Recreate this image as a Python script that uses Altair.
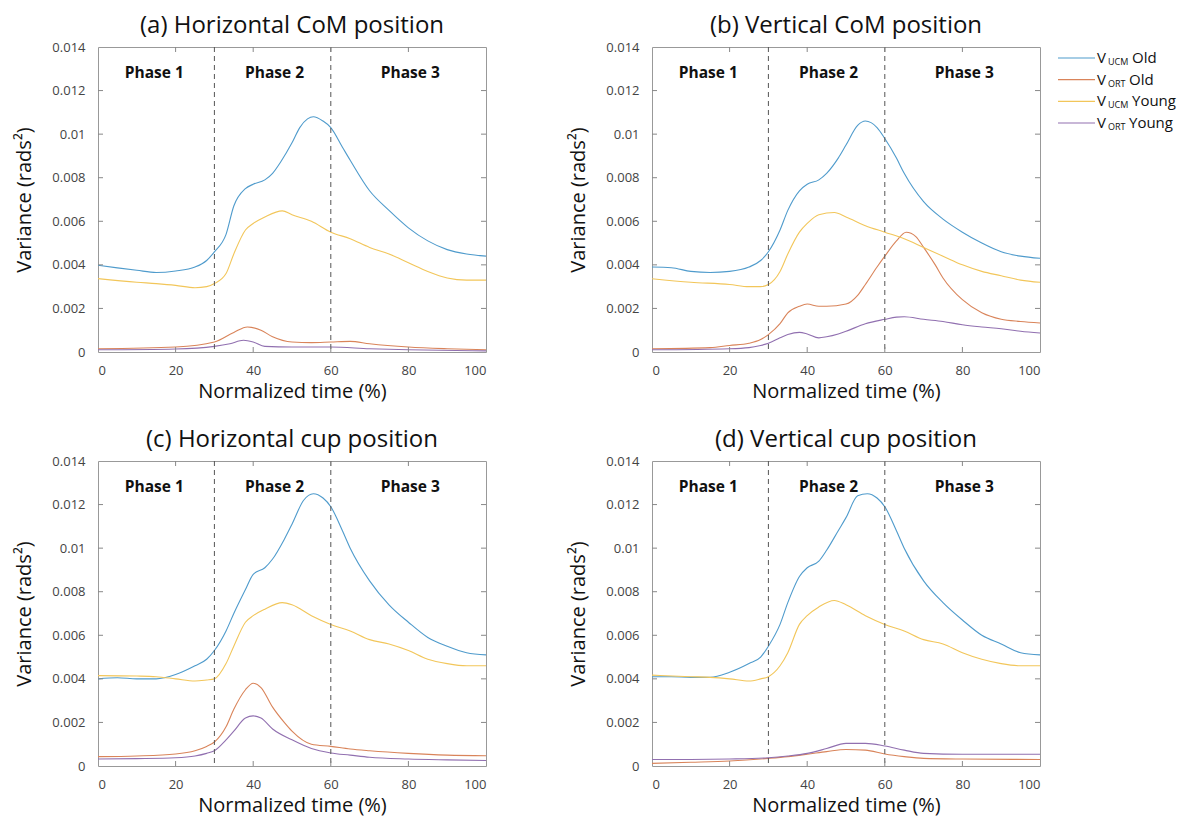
import altair as alt
import pandas as pd

FONT = "Open Sans"

SERIES = ["UCM Old", "ORT Old", "UCM Young", "ORT Young"]
COLORS = ["#4f9bcc", "#d9845a", "#f2c65a", "#9170b0"]
PANEL_TITLES = ["(a) Horizontal CoM position", "(b) Vertical CoM position",
                "(c) Horizontal cup position", "(d) Vertical cup position"]
PHASE_LABELS = ["Phase 1", "Phase 2", "Phase 3"]
PHASE_X = [14.5, 45.5, 80.5]
PHASE_Y = 0.0128
PHASE_BOUNDS = [30, 60]
X_TICKS = [0, 20, 40, 60, 80, 100]
Y_TICKS = [0, 0.002, 0.004, 0.006, 0.008, 0.01, 0.012, 0.014]

# ---- panel (a) ----
A_UCM_OLD_T = [0, 5, 10, 15, 20, 25, 28, 30, 33, 35, 38, 40, 43, 45, 47, 50, 52, 54, 55.5, 58, 60, 63, 65, 70, 75, 80, 85, 90, 95, 100]
A_UCM_OLD_V = [0.00398, 0.00386, 0.00375, 0.00365, 0.00372, 0.0039, 0.0042, 0.0046, 0.0054, 0.0067, 0.0075, 0.0077, 0.0079, 0.0082, 0.0087, 0.0096, 0.0103, 0.0107, 0.0108, 0.0106, 0.0103, 0.0094, 0.0088, 0.0074, 0.0065, 0.0057, 0.0051, 0.0047, 0.0045, 0.0044]
A_UCM_YOUNG_T = [0, 10, 15, 20, 25, 28, 30, 33, 35, 38, 40, 43, 47.5, 50, 55, 60, 65, 70, 75, 80, 85, 90, 95, 100]
A_UCM_YOUNG_V = [0.00337, 0.0032, 0.00314, 0.00306, 0.00295, 0.003, 0.00314, 0.0036, 0.0045, 0.0056, 0.0059, 0.0062, 0.00648, 0.0063, 0.006, 0.0055, 0.0052, 0.0048, 0.0045, 0.0041, 0.0037, 0.0034, 0.0033, 0.0033]
A_ORT_OLD_T = [0, 20, 30, 35, 38.5, 42, 45, 50, 55, 60, 65, 70, 80, 90, 100]
A_ORT_OLD_V = [0.00015, 0.00023, 0.00046, 0.0009, 0.00115, 0.001, 0.0007, 0.00046, 0.00043, 0.00046, 0.00049, 0.00038, 0.00023, 0.00015, 0.0001]
A_ORT_YOUNG_T = [0, 20, 30, 34, 37.5, 40, 43, 50, 60, 70, 80, 100]
A_ORT_YOUNG_V = [0.0001, 0.00014, 0.00026, 0.00038, 0.00054, 0.00046, 0.00026, 0.00023, 0.00023, 0.00015, 0.0001, 0.00005]

# ---- panel (b) ----
B_UCM_OLD_T = [0, 5, 10, 15, 20, 25, 28, 30, 33, 35, 38, 40, 43, 45, 48, 50, 53, 55, 58, 60, 63, 65, 70, 75, 80, 85, 90, 95, 100]
B_UCM_OLD_V = [0.0039, 0.00387, 0.0037, 0.00365, 0.0037, 0.0039, 0.0042, 0.0046, 0.0056, 0.0065, 0.0074, 0.0077, 0.0079, 0.0082, 0.0089, 0.0095, 0.0104, 0.0106, 0.0103, 0.0098, 0.0089, 0.0082, 0.0069, 0.0061, 0.0055, 0.005, 0.0046, 0.0044, 0.0043]
B_UCM_YOUNG_T = [0, 10, 20, 25, 28, 30, 33, 35, 38, 40, 43, 47, 50, 55, 60, 65, 70, 75, 80, 85, 90, 95, 100]
B_UCM_YOUNG_V = [0.00336, 0.0032, 0.0031, 0.003, 0.003, 0.0031, 0.0037, 0.0045, 0.0055, 0.0059, 0.0063, 0.0064, 0.0062, 0.0058, 0.0055, 0.0052, 0.0048, 0.0044, 0.004, 0.0037, 0.0035, 0.0033, 0.0032]
B_ORT_OLD_T = [0, 15, 20, 25, 28, 30, 33, 35, 38, 40, 43, 45, 50, 53, 55, 58, 60, 63, 65.5, 68, 70, 73, 75, 80, 85, 90, 95, 100]
B_ORT_OLD_V = [0.00015, 0.0002, 0.0003, 0.0004, 0.00057, 0.0008, 0.0013, 0.0018, 0.0021, 0.0022, 0.0021, 0.0021, 0.0022, 0.0026, 0.0031, 0.0039, 0.0044, 0.0051, 0.0055, 0.0053, 0.0048, 0.004, 0.0034, 0.0024, 0.0018, 0.0015, 0.0014, 0.00133]
B_ORT_YOUNG_T = [0, 20, 25, 28, 30, 33, 35, 38, 40, 43, 45, 48, 50, 55, 60, 63, 65, 70, 75, 80, 85, 90, 95, 100]
B_ORT_YOUNG_V = [0.0001, 0.00015, 0.0002, 0.0003, 0.0004, 0.00065, 0.0008, 0.0009, 0.00083, 0.00065, 0.0007, 0.00083, 0.00095, 0.0013, 0.0015, 0.0016, 0.00162, 0.0015, 0.0014, 0.00125, 0.00115, 0.00107, 0.00095, 0.00087]

# ---- panel (c) ----
C_UCM_OLD_T = [0, 5, 10, 15, 20, 25, 28, 30, 33, 35, 38, 40, 43, 45, 48, 50, 53, 55.5, 58, 60, 63, 65, 70, 75, 80, 85, 90, 95, 100]
C_UCM_OLD_V = [0.004, 0.00405, 0.004, 0.004, 0.0042, 0.0046, 0.0049, 0.0053, 0.0062, 0.007, 0.0081, 0.0088, 0.0091, 0.0095, 0.0104, 0.0111, 0.0122, 0.0125, 0.0123, 0.0119, 0.0108, 0.01, 0.0085, 0.0074, 0.0066, 0.0059, 0.0055, 0.0052, 0.0051]
C_UCM_YOUNG_T = [0, 10, 15, 20, 25, 28, 30, 33, 35, 38, 40, 43, 47.5, 50, 55, 60, 65, 70, 75, 80, 85, 90, 95, 100]
C_UCM_YOUNG_V = [0.00415, 0.00413, 0.0041, 0.004, 0.0039, 0.00395, 0.004, 0.0047, 0.0055, 0.0066, 0.0069, 0.0072, 0.0075, 0.0074, 0.0069, 0.0065, 0.0062, 0.0058, 0.0056, 0.0053, 0.0049, 0.0047, 0.0046, 0.0046]
C_ORT_OLD_T = [0, 10, 20, 25, 28, 30, 33, 35, 38, 40, 42, 45, 48, 50, 55, 60, 65, 70, 80, 90, 100]
C_ORT_OLD_V = [0.00043, 0.00046, 0.00055, 0.0007, 0.0009, 0.0011, 0.0018, 0.0026, 0.0035, 0.0038, 0.0036, 0.0027, 0.002, 0.0016, 0.001, 0.0009, 0.00078, 0.0007, 0.00058, 0.0005, 0.00047]
C_ORT_YOUNG_T = [0, 10, 20, 25, 28, 30, 33, 35, 38, 40, 42, 45, 50, 55, 60, 65, 70, 80, 90, 100]
C_ORT_YOUNG_V = [0.00032, 0.00034, 0.00038, 0.00046, 0.00058, 0.0007, 0.0012, 0.0016, 0.0022, 0.0023, 0.0022, 0.0017, 0.0012, 0.0008, 0.0006, 0.0005, 0.0004, 0.00032, 0.00028, 0.00025]

# ---- panel (d) ----
D_UCM_OLD_T = [0, 5, 10, 15, 20, 25, 28, 30, 33, 35, 38, 40, 43, 45, 48, 50, 53, 55.5, 58, 60, 63, 65, 70, 75, 80, 85, 90, 95, 100]
D_UCM_OLD_V = [0.0041, 0.0041, 0.00407, 0.00407, 0.0043, 0.0047, 0.005, 0.0055, 0.0065, 0.0075, 0.0087, 0.0091, 0.0094, 0.0099, 0.0108, 0.0114, 0.0124, 0.0125, 0.0123, 0.0119, 0.0108, 0.01, 0.0085, 0.0075, 0.0067, 0.006, 0.0056, 0.0052, 0.0051]
D_UCM_YOUNG_T = [0, 10, 15, 20, 25, 28, 30, 33, 35, 38, 40, 43, 47, 50, 55, 60, 65, 70, 75, 80, 85, 90, 95, 100]
D_UCM_YOUNG_V = [0.00417, 0.0041, 0.00407, 0.004, 0.0039, 0.004, 0.0041, 0.0046, 0.0052, 0.0065, 0.0069, 0.0073, 0.0076, 0.0074, 0.0069, 0.0065, 0.0062, 0.0058, 0.0056, 0.0052, 0.0049, 0.0047, 0.0046, 0.0046]
D_ORT_OLD_T = [0, 10, 20, 30, 35, 40, 45, 50, 55, 60, 65, 70, 80, 100]
D_ORT_OLD_V = [0.00012, 0.00017, 0.00023, 0.00035, 0.00043, 0.00054, 0.00066, 0.00076, 0.00073, 0.00055, 0.00043, 0.00035, 0.00032, 0.0003]
D_ORT_YOUNG_T = [0, 10, 20, 30, 35, 40, 45, 50, 55, 60, 65, 70, 80, 100]
D_ORT_YOUNG_V = [0.0003, 0.0003, 0.00032, 0.00038, 0.00046, 0.00058, 0.0008, 0.00104, 0.00104, 0.00092, 0.00073, 0.00058, 0.00054, 0.00054]

PANELS = [
    [(A_UCM_OLD_T, A_UCM_OLD_V), (A_ORT_OLD_T, A_ORT_OLD_V), (A_UCM_YOUNG_T, A_UCM_YOUNG_V), (A_ORT_YOUNG_T, A_ORT_YOUNG_V)],
    [(B_UCM_OLD_T, B_UCM_OLD_V), (B_ORT_OLD_T, B_ORT_OLD_V), (B_UCM_YOUNG_T, B_UCM_YOUNG_V), (B_ORT_YOUNG_T, B_ORT_YOUNG_V)],
    [(C_UCM_OLD_T, C_UCM_OLD_V), (C_ORT_OLD_T, C_ORT_OLD_V), (C_UCM_YOUNG_T, C_UCM_YOUNG_V), (C_ORT_YOUNG_T, C_ORT_YOUNG_V)],
    [(D_UCM_OLD_T, D_UCM_OLD_V), (D_ORT_OLD_T, D_ORT_OLD_V), (D_UCM_YOUNG_T, D_UCM_YOUNG_V), (D_ORT_YOUNG_T, D_ORT_YOUNG_V)],
]

W, H = 388, 305

xscale = alt.Scale(domain=[0, 100], nice=False)
yscale = alt.Scale(domain=[0, 0.014], nice=False)
color_scale = alt.Scale(domain=SERIES, range=COLORS)


def make_panel(idx):
    rows = []
    for name, (ts, vs) in zip(SERIES, PANELS[idx]):
        for t, v in zip(ts, vs):
            rows.append({"t": t, "v": v, "series": name})
    df = pd.DataFrame(rows)

    lines = alt.Chart(df).mark_line(strokeWidth=1.1, interpolate="monotone").encode(
        x=alt.X("t:Q", scale=xscale,
                axis=alt.Axis(values=X_TICKS, title="Normalized time (%)", grid=False,
                              ticks=False, domain=False, labelPadding=12,
                              labelFontSize=13, labelColor="#444", labelFont=FONT,
                              titleFont=FONT, titleFontSize=20, titleFontWeight="normal",
                              titleColor="#111", titlePadding=4)),
        y=alt.Y("v:Q", scale=yscale,
                axis=alt.Axis(values=Y_TICKS, title="Variance (rads²)", grid=False,
                              ticks=False, domain=False, labelPadding=13,
                              labelExpr="datum.value == 0 ? '0' : format(datum.value, '.3~f')",
                              labelFontSize=13, labelColor="#444", labelFont=FONT,
                              titleFont=FONT, titleFontSize=20, titleFontWeight="normal",
                              titleColor="#111", titlePadding=17)),
        color=alt.Color("series:N", scale=color_scale, legend=None),
    )

    bounds = alt.Chart(pd.DataFrame({"x": PHASE_BOUNDS})).mark_rule(
        color="#555", strokeDash=[5, 4], strokeWidth=1
    ).encode(x=alt.X("x:Q", scale=xscale))

    phases = alt.Chart(pd.DataFrame({"x": PHASE_X, "y": [PHASE_Y] * 3, "label": PHASE_LABELS})).mark_text(
        font=FONT, fontSize=15.5, fontWeight="bold", color="#111"
    ).encode(x=alt.X("x:Q", scale=xscale), y=alt.Y("y:Q", scale=yscale), text="label:N")

    inner_x = [v for v in X_TICKS if 0 < v < 100]
    inner_y = [v for v in Y_TICKS if 0 < v < 0.014]
    tb = alt.Chart(pd.DataFrame({"x": inner_x})).mark_rule(color="#888", strokeWidth=1)
    ticks_bottom = tb.encode(x=alt.X("x:Q", scale=xscale), y=alt.value(H), y2=alt.value(H - 5))
    ticks_top = tb.encode(x=alt.X("x:Q", scale=xscale), y=alt.value(0), y2=alt.value(5))
    tl = alt.Chart(pd.DataFrame({"y": inner_y})).mark_rule(color="#888", strokeWidth=1)
    ticks_left = tl.encode(y=alt.Y("y:Q", scale=yscale), x=alt.value(0), x2=alt.value(5))
    ticks_right = tl.encode(y=alt.Y("y:Q", scale=yscale), x=alt.value(W), x2=alt.value(W - 5))

    return alt.layer(lines, bounds, phases, ticks_bottom, ticks_top, ticks_left, ticks_right).properties(
        width=W, height=H,
        view=alt.ViewBackground(stroke="#999", strokeWidth=1),
        title=alt.TitleParams(PANEL_TITLES[idx], font=FONT, fontSize=24, fontWeight="normal",
                              color="#111", offset=3),
    )


# ---- custom legend with subscripts ----
LEG_MAIN = ["V", "V", "V", "V"]
LEG_SUB = ["UCM", "ORT", "UCM", "ORT"]
LEG_REST = ["Old", "Old", "Young", "Young"]
leg_df = pd.DataFrame({"series": SERIES, "i": [0, 1, 2, 3], "main": LEG_MAIN,
                       "sub": LEG_SUB, "rest": LEG_REST})
leg_y = alt.Y("i:Q", axis=None, scale=alt.Scale(domain=[0, 3], range=[11, 76]))
leg_base = alt.Chart(leg_df)
leg_line = leg_base.mark_rule(strokeWidth=1.2).encode(
    y=leg_y, x=alt.value(0), x2=alt.value(37),
    color=alt.Color("series:N", scale=color_scale, legend=None))
leg_v = leg_base.mark_text(align="left", baseline="middle", font=FONT, fontSize=15, color="#111").encode(
    y=leg_y, x=alt.value(39), text="main:N")
leg_sub = leg_base.mark_text(align="left", baseline="middle", font=FONT, fontSize=9, dy=4, color="#111").encode(
    y=leg_y, x=alt.value(50), text="sub:N")
leg_rest = leg_base.transform_calculate(
    px="datum.sub == 'UCM' ? 74 : 71"
).mark_text(align="left", baseline="middle", font=FONT, fontSize=15, color="#111").encode(
    y=leg_y, x=alt.X("px:Q", scale=None), text="rest:N")
legend = alt.layer(leg_line, leg_v, leg_sub, leg_rest).properties(
    width=125, height=90, view=alt.ViewBackground(strokeWidth=0, strokeOpacity=0))

row1 = alt.hconcat(alt.hconcat(make_panel(0), make_panel(1), spacing=79), legend, spacing=14)
row2 = alt.hconcat(make_panel(2), make_panel(3), spacing=79)
chart = alt.vconcat(row1, row2, spacing=25).properties(
    padding={"left": 6, "top": 5, "right": 0, "bottom": 0}
).configure(font=FONT)

chart.save("out.html", embed_options={"renderer": "svg", "actions": False})
